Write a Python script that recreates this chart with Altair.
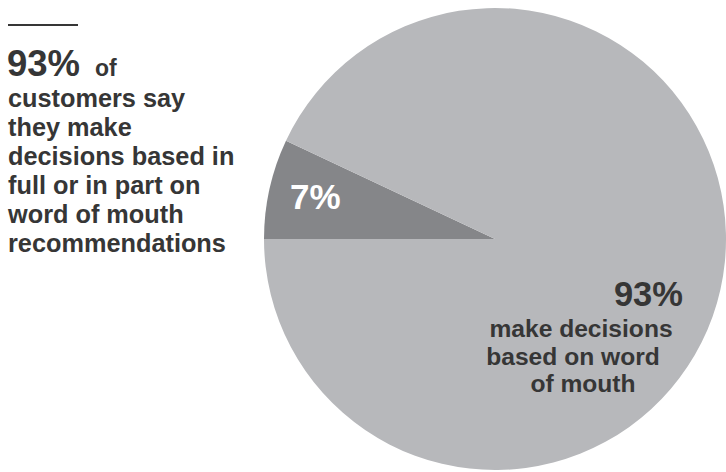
import math
import altair as alt
import pandas as pd

# ---- data ----
labels = ["7%", "93%"]
shares = [7, 93]
slice_order = [0, 1]
slice_colors = ["#858689", "#b7b8bb"]

left_headline = "93%"
left_headline_tail = "of"
left_lines = [
    "customers say",
    "they make",
    "decisions based in",
    "full or in part on",
    "word of mouth",
    "recommendations",
]
right_headline = "93%"
right_lines = ["make decisions", "based on word", "of mouth"]

W, H = 726, 472
CX, CY, R = 495, 239, 231
FONT = "Liberation Sans"
INK = "#363636"

pie_df = pd.DataFrame({"label": labels, "share": shares, "order": slice_order})

pie = alt.Chart(pie_df).mark_arc(radius=R).encode(
    theta=alt.Theta("share:Q", stack=True,
                    scale=alt.Scale(range=[1.5 * math.pi, 3.5 * math.pi])),
    color=alt.Color("label:N", scale=alt.Scale(domain=labels, range=slice_colors),
                    legend=None),
    order=alt.Order("order:Q"),
    x=alt.value(CX),
    y=alt.value(CY),
)


def txt(s, x, y, size, align="left", color=INK):
    return alt.Chart(pd.DataFrame({"t": [s]})).mark_text(
        align=align, baseline="alphabetic", font=FONT, fontWeight="bold",
        fontSize=size, color=color,
    ).encode(x=alt.value(x), y=alt.value(y), text="t:N")


rule = alt.Chart(pd.DataFrame({"a": [0]})).mark_rule(
    color=INK, strokeWidth=2
).encode(x=alt.value(8), x2=alt.value(78), y=alt.value(25))

layers = [pie, rule]
layers.append(txt(left_headline, 7, 76, 36.5))
layers.append(txt(left_headline_tail, 95, 76, 23))
for i, line in enumerate(left_lines):
    layers.append(txt(line, 8, 107 + i * 29, 25.3))

layers.append(txt(labels[0], 290, 209, 35, color="#ffffff"))
layers.append(txt(right_headline, 683, 306, 34.5, align="right"))
right_centers = [581, 573, 583]
for i, line in enumerate(right_lines):
    layers.append(txt(line, right_centers[i], 337 + i * 27.5, 24.6, align="center"))

chart = alt.layer(*layers).properties(
    width=W, height=H, padding=0, autosize=alt.AutoSizeParams(type="none"),
    background="#ffffff",
).configure_view(stroke=None)

chart.save("out.html", embed_options={"renderer": "svg", "actions": False})
